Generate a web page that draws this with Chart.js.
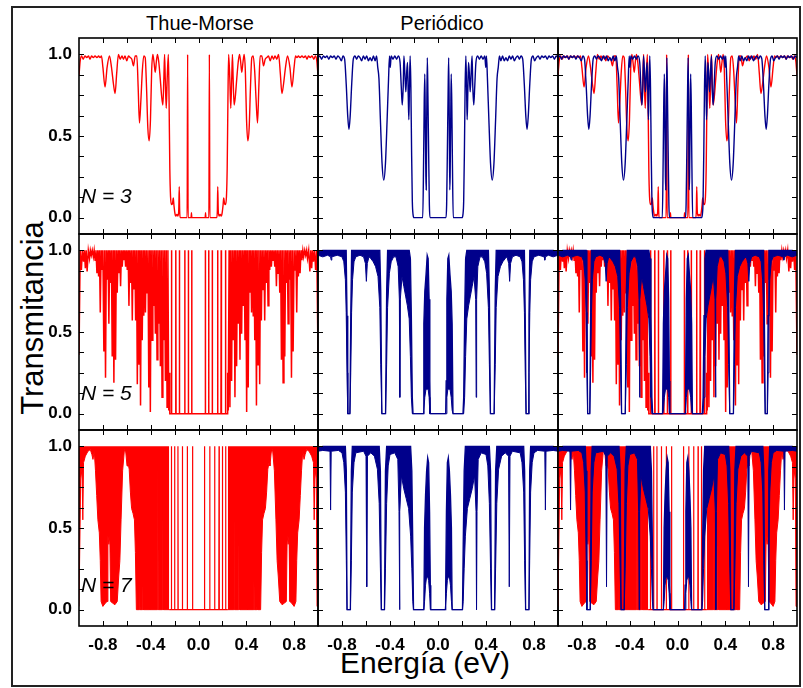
<!DOCTYPE html>
<html>
<head>
<meta charset="utf-8">
<script src="https://cdn.jsdelivr.net/npm/chart.js"></script>
<style>
  body { margin: 0; background: #fff; }
  #fig { position: relative; width: 803px; height: 688px; overflow: hidden; background: #fff; font-family: 'Liberation Sans', Arial, sans-serif; }
  #fig canvas { position: absolute; }
  .txt { position: absolute; white-space: nowrap; color: #000; }
  .frame { position: absolute; left: 11px; top: 6px; width: 790px; height: 681px; box-sizing: border-box; border: 2px solid #222; }
</style>
</head>
<body>
<div id="fig">
  <div class="frame"></div>
  <div class="txt" style="left:100px;top:13px;width:200px;text-align:center;font-size:20px;line-height:20px;">Thue-Morse</div>
  <div class="txt" style="left:342px;top:13px;width:200px;text-align:center;font-size:20px;line-height:20px;">Periódico</div>
  <div class="txt" style="left:32px;top:318px;font-size:31px;line-height:31px;transform:translate(-50%,-50%) rotate(-90deg);">Transmitancia</div>
  <div class="txt" style="left:325px;top:648px;width:200px;text-align:center;font-size:30px;line-height:30px;">Energía (eV)</div>
</div>
<script>
// ejes: marcas y etiquetas
const xLabelTicks = [-0.8, -0.4, 0, 0.4, 0.8];
const yLabelTicks = [0, 0.5, 1];
const xMinorTicks = [-0.8, -0.6, -0.4, -0.2, 0, 0.2, 0.4, 0.6, 0.8];
const yMinorTicks = [0, 0.125, 0.25, 0.375, 0.5, 0.625, 0.75, 0.875, 1];
const rowLabels = ['N = 3', 'N = 5', 'N = 7'];

// Thue-Morse N=3 [energía, T]
const tmN3 = [[-1.000,0.87],[-0.990,0.96],[-0.978,0.99],[-0.965,0.97],[-0.950,0.99],[-0.935,0.98],[-0.920,0.99],[-0.908,0.97],[-0.895,0.99],[-0.880,0.98],[-0.866,0.99],[-0.850,0.98],[-0.836,0.99],[-0.824,0.98],[-0.812,0.99],[-0.800,0.92],[-0.782,0.80],[-0.765,0.92],[-0.745,0.99],[-0.728,0.92],[-0.712,0.82],[-0.698,0.76],[-0.685,0.88],[-0.670,1.00],[-0.655,0.97],[-0.640,0.99],[-0.628,0.97],[-0.615,0.99],[-0.600,0.96],[-0.586,0.99],[-0.572,0.98],[-0.558,0.97],[-0.544,0.93],[-0.530,0.99],[-0.516,0.99],[-0.505,0.80],[-0.494,0.58],[-0.482,0.72],[-0.470,0.90],[-0.458,0.99],[-0.446,0.98],[-0.435,0.80],[-0.424,0.55],[-0.413,0.47],[-0.402,0.60],[-0.392,0.90],[-0.382,1.00],[-0.372,0.95],[-0.362,0.89],[-0.352,0.96],[-0.343,1.00],[-0.332,0.95],[-0.320,0.85],[-0.308,0.74],[-0.298,0.69],[-0.290,0.85],[-0.284,1.00],[-0.278,0.85],[-0.270,0.67],[-0.262,0.85],[-0.252,1.00],[-0.246,0.70],[-0.240,0.30],[-0.234,0.13],[-0.226,0.08],[-0.217,0.09],[-0.211,0.12],[-0.206,0.08],[-0.198,0.03],[-0.190,0.01],[-0.181,0.02],[-0.172,0.01],[-0.165,0.05],[-0.161,0.19],[-0.158,0.05],[-0.153,0.00],[-0.095,0.00],[-0.091,1.00],[-0.087,0.00],[-0.062,0.00],[-0.059,0.03],[-0.056,0.00],
  [0.056,0.00],[0.059,0.03],[0.062,0.00],[0.087,0.00],[0.091,1.00],[0.095,0.00],[0.153,0.00],[0.158,0.05],[0.161,0.19],[0.165,0.05],[0.172,0.01],[0.181,0.02],[0.190,0.01],[0.198,0.03],[0.206,0.08],[0.211,0.12],[0.217,0.09],[0.226,0.08],[0.234,0.13],[0.240,0.30],[0.246,0.70],[0.252,1.00],[0.262,0.85],[0.270,0.67],[0.278,0.85],[0.284,1.00],[0.290,0.85],[0.298,0.69],[0.308,0.74],[0.320,0.85],[0.332,0.95],[0.343,1.00],[0.352,0.96],[0.362,0.89],[0.372,0.95],[0.382,1.00],[0.392,0.90],[0.402,0.60],[0.413,0.47],[0.424,0.55],[0.435,0.80],[0.446,0.98],[0.458,0.99],[0.470,0.90],[0.482,0.72],[0.494,0.58],[0.505,0.80],[0.516,0.99],[0.530,0.99],[0.544,0.93],[0.558,0.97],[0.572,0.98],[0.586,0.99],[0.600,0.96],[0.615,0.99],[0.628,0.97],[0.640,0.99],[0.655,0.97],[0.670,1.00],[0.685,0.88],[0.698,0.76],[0.712,0.82],[0.728,0.92],[0.745,0.99],[0.765,0.92],[0.782,0.80],[0.800,0.92],[0.812,0.99],[0.824,0.98],[0.836,0.99],[0.850,0.98],[0.866,0.99],[0.880,0.98],[0.895,0.99],[0.908,0.97],[0.920,0.99],[0.935,0.98],[0.950,0.99],[0.965,0.97],[0.978,0.99],[0.990,0.96],[1.000,0.87]];

// Periódico N=3 [energía, T]
const perN3 = [[-1.000,0.98],[-0.985,0.99],[-0.970,0.97],[-0.955,0.99],[-0.940,0.98],[-0.925,0.99],[-0.910,0.97],[-0.895,0.99],[-0.880,0.98],[-0.865,0.99],[-0.850,0.97],[-0.835,0.99],[-0.820,0.98],[-0.805,0.96],[-0.792,0.99],[-0.778,0.97],[-0.765,0.82],[-0.752,0.62],[-0.742,0.54],[-0.732,0.62],[-0.719,0.82],[-0.706,0.97],[-0.692,0.99],[-0.678,0.97],[-0.664,0.99],[-0.650,0.98],[-0.636,0.96],[-0.622,0.99],[-0.608,0.97],[-0.594,0.99],[-0.580,0.96],[-0.566,0.98],[-0.552,0.96],[-0.538,0.99],[-0.524,0.96],[-0.512,0.99],[-0.502,0.92],[-0.492,0.85],[-0.480,0.60],[-0.466,0.33],[-0.452,0.23],[-0.438,0.33],[-0.424,0.60],[-0.412,0.85],[-0.404,0.99],[-0.398,0.92],[-0.390,0.99],[-0.375,0.97],[-0.360,0.99],[-0.345,0.97],[-0.330,0.99],[-0.316,0.95],[-0.306,0.80],[-0.298,0.69],[-0.290,0.80],[-0.284,0.99],[-0.276,0.88],[-0.268,0.77],[-0.260,0.90],[-0.254,0.95],[-0.248,0.75],[-0.243,0.60],[-0.238,0.80],[-0.232,0.99],[-0.226,0.80],[-0.220,0.40],[-0.214,0.10],[-0.208,0.02],[-0.200,0.00],[-0.127,0.00],[-0.120,0.35],[-0.115,0.70],[-0.110,0.88],[-0.106,0.60],[-0.101,0.25],[-0.098,0.17],[-0.094,0.60],[-0.089,0.98],[-0.084,0.75],[-0.078,0.40],[-0.072,0.08],[-0.067,0.00],
  [0.067,0.00],[0.072,0.08],[0.078,0.40],[0.084,0.75],[0.089,0.98],[0.094,0.60],[0.098,0.17],[0.101,0.25],[0.106,0.60],[0.110,0.88],[0.115,0.70],[0.120,0.35],[0.127,0.00],[0.200,0.00],[0.208,0.02],[0.214,0.10],[0.220,0.40],[0.226,0.80],[0.232,0.99],[0.238,0.80],[0.243,0.60],[0.248,0.75],[0.254,0.95],[0.260,0.90],[0.268,0.77],[0.276,0.88],[0.284,0.99],[0.290,0.80],[0.298,0.69],[0.306,0.80],[0.316,0.95],[0.330,0.99],[0.345,0.97],[0.360,0.99],[0.375,0.97],[0.390,0.99],[0.398,0.92],[0.404,0.99],[0.412,0.85],[0.424,0.60],[0.438,0.33],[0.452,0.23],[0.466,0.33],[0.480,0.60],[0.492,0.85],[0.502,0.92],[0.512,0.99],[0.524,0.96],[0.538,0.99],[0.552,0.96],[0.566,0.98],[0.580,0.96],[0.594,0.99],[0.608,0.97],[0.622,0.99],[0.636,0.96],[0.650,0.98],[0.664,0.99],[0.678,0.97],[0.692,0.99],[0.706,0.97],[0.719,0.82],[0.732,0.62],[0.742,0.54],[0.752,0.62],[0.765,0.82],[0.778,0.97],[0.792,0.99],[0.805,0.96],[0.820,0.98],[0.835,0.99],[0.850,0.97],[0.865,0.99],[0.880,0.98],[0.895,0.99],[0.910,0.97],[0.925,0.99],[0.940,0.98],[0.955,0.99],[0.970,0.97],[0.985,0.99],[1.000,0.98]];

// Thue-Morse N=5 [energía, T]
const tmN5 = [[-1.000,0.36],[-0.990,1],[-0.980,0.88],[-0.972,1],[-0.962,0.93],[-0.955,1],[-0.947,0.89],[-0.940,1],[-0.932,0.87],[-0.922,1],[-0.912,0.95],[-0.905,1],[-0.897,0.97],[-0.889,1],[-0.880,0.96],[-0.873,1],[-0.865,0.94],[-0.858,1],[-0.850,0.86],[-0.843,1],[-0.836,0.84],[-0.829,1],[-0.822,0.62],[-0.815,1],[-0.808,0.88],[-0.800,1],[-0.792,0.38],[-0.785,1],[-0.778,0.22],[-0.771,1],[-0.764,0.82],[-0.757,1],[-0.750,0.55],[-0.743,1],[-0.736,0.80],[-0.729,1],[-0.722,0.35],[-0.715,1],[-0.708,0.19],[-0.701,1],[-0.694,0.33],[-0.687,1],[-0.680,0.74],[-0.673,1],[-0.666,0.86],[-0.659,1],[-0.652,0.78],[-0.645,1],[-0.638,0.90],[-0.631,1],[-0.624,0.94],[-0.617,1],[-0.610,0.90],[-0.603,1],[-0.596,0.88],[-0.589,1],[-0.582,0.66],[-0.575,1],[-0.568,0.80],[-0.561,1],[-0.554,0.57],[-0.547,1],[-0.540,0.76],[-0.533,1],[-0.526,0.57],[-0.519,1],[-0.512,0.18],[-0.505,1],[-0.498,0.30],[-0.491,1],[-0.485,0.05],[-0.478,1],[-0.471,0.45],[-0.464,1],[-0.458,0.60],[-0.451,1],[-0.444,0.62],[-0.437,1],[-0.430,0.74],[-0.423,1],[-0.416,0.16],[-0.409,1],[-0.403,0.01],[-0.396,1],[-0.389,0.45],[-0.382,1],[-0.375,0.66],[-0.368,1],[-0.361,0.49],[-0.354,1],[-0.347,0.33],[-0.340,1],[-0.333,0.55],[-0.326,1],[-0.319,0.29],[-0.312,1],[-0.305,0.10],[-0.298,1],[-0.291,0.45],[-0.284,1],[-0.277,0.20],[-0.270,1],[-0.263,0.04],[-0.256,1],[-0.249,0.02],[-0.244,0.25],[-0.240,0],
  [-0.228,0],[-0.226,1],[-0.224,0],[-0.192,0],[-0.190,1],[-0.188,0],[-0.162,0],[-0.160,1],[-0.158,0],[-0.117,0],[-0.115,1],[-0.113,0],[-0.087,0],[-0.085,1],[-0.083,0],[-0.059,0],[-0.057,1],[-0.055,0],[0.055,0],[0.057,1],[0.059,0],[0.083,0],[0.085,1],[0.087,0],[0.113,0],[0.115,1],[0.117,0],[0.158,0],[0.160,1],[0.162,0],[0.188,0],[0.190,1],[0.192,0],[0.224,0],[0.226,1],[0.228,0],
  [0.240,0],[0.244,0.25],[0.249,0.02],[0.256,1],[0.263,0.04],[0.270,1],[0.277,0.20],[0.284,1],[0.291,0.45],[0.298,1],[0.305,0.10],[0.312,1],[0.319,0.29],[0.326,1],[0.333,0.55],[0.340,1],[0.347,0.33],[0.354,1],[0.361,0.49],[0.368,1],[0.375,0.66],[0.382,1],[0.389,0.45],[0.396,1],[0.403,0.01],[0.409,1],[0.416,0.16],[0.423,1],[0.430,0.74],[0.437,1],[0.444,0.62],[0.451,1],[0.458,0.60],[0.464,1],[0.471,0.45],[0.478,1],[0.485,0.05],[0.491,1],[0.498,0.30],[0.505,1],[0.512,0.18],[0.519,1],[0.526,0.57],[0.533,1],[0.540,0.76],[0.547,1],[0.554,0.57],[0.561,1],[0.568,0.80],[0.575,1],[0.582,0.66],[0.589,1],[0.596,0.88],[0.603,1],[0.610,0.90],[0.617,1],[0.624,0.94],[0.631,1],[0.638,0.90],[0.645,1],[0.652,0.78],[0.659,1],[0.666,0.86],[0.673,1],[0.680,0.74],[0.687,1],[0.694,0.33],[0.701,1],[0.708,0.19],[0.715,1],[0.722,0.35],[0.729,1],[0.736,0.80],[0.743,1],[0.750,0.55],[0.757,1],[0.764,0.82],[0.771,1],[0.778,0.22],[0.785,1],[0.792,0.38],[0.800,1],[0.808,0.88],[0.815,1],[0.822,0.62],[0.829,1],[0.836,0.84],[0.843,1],[0.850,0.86],[0.858,1],[0.865,0.94],[0.873,1],[0.880,0.96],[0.889,1],[0.897,0.97],[0.905,1],[0.912,0.95],[0.922,1],[0.932,0.87],[0.940,1],[0.947,0.89],[0.955,1],[0.962,0.93],[0.972,1],[0.980,0.88],[0.990,1],[1.000,0.36]];

// Periódico N=5: oscilaciones rápidas como banda [energía, T mín, T máx]
const perN5 = [[-1.000,0.97,0.99],[-0.960,0.96,1],[-0.920,0.97,1],[-0.895,0.96,1],[-0.890,0.94,1],[-0.885,0.96,1],[-0.840,0.97,1],[-0.800,0.96,1],[-0.785,0.93,1],[-0.772,0.82,1],[-0.765,0.62,1],[-0.758,0.25,0.60],[-0.752,0,0],[-0.734,0,0],[-0.727,0.25,0.60],[-0.720,0.62,1],[-0.712,0.82,1],[-0.700,0.93,1],[-0.685,0.96,1],[-0.650,0.97,1],[-0.620,0.96,1],[-0.605,0.92,1],[-0.597,0.81,1],[-0.589,0.92,1],[-0.575,0.96,1],[-0.560,0.95,1],[-0.540,0.93,1],[-0.520,0.90,1],[-0.500,0.84,1],[-0.485,0.65,1],[-0.477,0.30,0.75],[-0.468,0,0],[-0.437,0,0],[-0.428,0.30,0.75],[-0.420,0.65,1],[-0.405,0.86,1],[-0.390,0.93,1],[-0.370,0.96,1],[-0.350,0.96,1],[-0.332,0.90,1],[-0.322,0.70,1],[-0.318,0.10,1],[-0.314,0.70,1],[-0.300,0.84,1],[-0.285,0.78,1],[-0.270,0.72,1],[-0.255,0.66,1],[-0.240,0.58,1],[-0.230,0.35,0.95],[-0.222,0.10,0.60],[-0.214,0,0.10],[-0.208,0,0],[-0.125,0,0],[-0.118,0.02,0.55],[-0.110,0.10,0.75],[-0.100,0.15,0.85],[-0.090,0.15,0.97],[-0.082,0.15,0.95],[-0.074,0.10,0.70],[-0.068,0,0.20],[-0.064,0,0],
  [0.064,0,0],[0.068,0,0.20],[0.074,0.10,0.70],[0.082,0.15,0.95],[0.090,0.15,0.97],[0.100,0.15,0.85],[0.110,0.10,0.75],[0.118,0.02,0.55],[0.125,0,0],[0.208,0,0],[0.214,0,0.10],[0.222,0.10,0.60],[0.230,0.35,0.95],[0.240,0.58,1],[0.255,0.66,1],[0.270,0.72,1],[0.285,0.78,1],[0.300,0.84,1],[0.314,0.70,1],[0.318,0.10,1],[0.322,0.70,1],[0.332,0.90,1],[0.350,0.96,1],[0.370,0.96,1],[0.390,0.93,1],[0.405,0.86,1],[0.420,0.65,1],[0.428,0.30,0.75],[0.437,0,0],[0.468,0,0],[0.477,0.30,0.75],[0.485,0.65,1],[0.500,0.84,1],[0.520,0.90,1],[0.540,0.93,1],[0.560,0.95,1],[0.575,0.96,1],[0.589,0.92,1],[0.597,0.81,1],[0.605,0.92,1],[0.620,0.96,1],[0.650,0.97,1],[0.685,0.96,1],[0.700,0.93,1],[0.712,0.82,1],[0.720,0.62,1],[0.727,0.25,0.60],[0.734,0,0],[0.752,0,0],[0.758,0.25,0.60],[0.765,0.62,1],[0.772,0.82,1],[0.785,0.93,1],[0.800,0.96,1],[0.840,0.97,1],[0.885,0.96,1],[0.890,0.94,1],[0.895,0.96,1],[0.920,0.97,1],[0.960,0.96,1],[1.000,0.97,0.99]];

// Thue-Morse N=7: envolvente inferior de la zona llena (hasta T=1) y picos del centro
const tmN7LowLeft = [[-1.000,0.02],[-0.992,0.02],[-0.986,0.80],[-0.975,0.86],[-0.968,0.55],[-0.962,0.90],[-0.947,0.94],[-0.925,0.97],[-0.905,0.98],[-0.892,0.95],[-0.883,0.92],[-0.872,0.97],[-0.862,0.85],[-0.852,0.70],[-0.842,0.55],[-0.830,0.47],[-0.822,0.30],[-0.815,0.05],[-0.800,0.02],[-0.780,0.04],[-0.765,0.05],[-0.758,0.45],[-0.750,0.40],[-0.742,0.45],[-0.735,0.05],[-0.700,0.03],[-0.680,0.05],[-0.668,0.20],[-0.658,0.30],[-0.648,0.55],[-0.635,0.85],[-0.620,0.98],[-0.608,0.96],[-0.598,0.88],[-0.590,0.90],[-0.580,0.86],[-0.570,0.72],[-0.560,0.62],[-0.548,0.59],[-0.536,0.55],[-0.528,0.35],[-0.520,0.00],[-0.495,0.00],[-0.492,0.16],[-0.489,0.00],[-0.467,0.00],[-0.464,0.18],[-0.461,0.00],[-0.412,0.00],[-0.409,0.35],[-0.406,0.00],[-0.345,0.00],[-0.341,0.90],[-0.337,0.00],[-0.300,0.00],[-0.297,0.60],[-0.294,0.00],[-0.245,0.00]];
const tmN7LowRight = [[0.245,0.00],[0.294,0.00],[0.297,0.60],[0.300,0.00],[0.337,0.00],[0.341,0.90],[0.345,0.00],[0.406,0.00],[0.409,0.35],[0.412,0.00],[0.461,0.00],[0.464,0.18],[0.467,0.00],[0.489,0.00],[0.492,0.16],[0.495,0.00],[0.520,0.00],[0.528,0.35],[0.536,0.55],[0.548,0.59],[0.560,0.62],[0.570,0.72],[0.580,0.86],[0.590,0.90],[0.598,0.88],[0.608,0.96],[0.620,0.98],[0.635,0.85],[0.648,0.55],[0.658,0.30],[0.668,0.20],[0.680,0.05],[0.700,0.03],[0.735,0.05],[0.742,0.45],[0.750,0.40],[0.758,0.45],[0.765,0.05],[0.780,0.04],[0.800,0.02],[0.815,0.05],[0.822,0.30],[0.830,0.47],[0.842,0.55],[0.852,0.70],[0.862,0.85],[0.872,0.97],[0.883,0.92],[0.892,0.95],[0.905,0.98],[0.925,0.97],[0.947,0.94],[0.962,0.90],[0.968,0.55],[0.975,0.86],[0.986,0.80],[0.992,0.02],[1.000,0.02]];
const tmN7Center = [[-0.245,0],[-0.229,0],[-0.227,1],[-0.225,0],[-0.202,0],[-0.200,1],[-0.198,0],[-0.174,0],[-0.172,1],[-0.170,0],[-0.137,0],[-0.135,1],[-0.133,0],[-0.096,0],[-0.094,1],[-0.092,0],[-0.052,0],[-0.050,1],[-0.048,0],[0.048,0],[0.050,1],[0.052,0],[0.092,0],[0.094,1],[0.096,0],[0.133,0],[0.135,1],[0.137,0],[0.170,0],[0.172,1],[0.174,0],[0.198,0],[0.200,1],[0.202,0],[0.225,0],[0.227,1],[0.229,0],[0.245,0]];

// Periódico N=7 [energía, T mín, T máx]
const perN7 = [[-1.000,0.97,0.99],[-0.960,0.975,1],[-0.900,0.97,1],[-0.895,0.61,1],[-0.890,0.97,1],[-0.830,0.975,1],[-0.800,0.96,1],[-0.785,0.90,1],[-0.772,0.72,1],[-0.764,0.30,0.85],[-0.758,0,0],[-0.730,0,0],[-0.722,0.30,0.85],[-0.714,0.72,1],[-0.700,0.90,1],[-0.685,0.96,1],[-0.620,0.97,1],[-0.600,0.94,1],[-0.594,0.14,1],[-0.588,0.94,1],[-0.560,0.96,1],[-0.530,0.94,1],[-0.505,0.86,1],[-0.490,0.65,1],[-0.480,0.25,0.85],[-0.472,0,0],[-0.446,0,0],[-0.438,0.25,0.85],[-0.428,0.65,1],[-0.415,0.88,1],[-0.400,0.95,1],[-0.360,0.96,1],[-0.335,0.92,1],[-0.325,0.60,1],[-0.321,0,1],[-0.317,0.60,1],[-0.305,0.82,1],[-0.285,0.74,1],[-0.265,0.68,1],[-0.245,0.62,1],[-0.228,0.45,1],[-0.218,0.25,0.85],[-0.210,0.05,0.40],[-0.204,0,0],[-0.118,0,0],[-0.112,0.05,0.50],[-0.104,0.15,0.70],[-0.095,0.20,0.85],[-0.086,0.20,0.93],[-0.078,0.18,0.90],[-0.070,0.10,0.60],[-0.064,0,0.15],[-0.060,0,0],
  [0.060,0,0],[0.064,0,0.15],[0.070,0.10,0.60],[0.078,0.18,0.90],[0.086,0.20,0.93],[0.095,0.20,0.85],[0.104,0.15,0.70],[0.112,0.05,0.50],[0.118,0,0],[0.204,0,0],[0.210,0.05,0.40],[0.218,0.25,0.85],[0.228,0.45,1],[0.245,0.62,1],[0.265,0.68,1],[0.285,0.74,1],[0.305,0.82,1],[0.317,0.60,1],[0.321,0,1],[0.325,0.60,1],[0.335,0.92,1],[0.360,0.96,1],[0.400,0.95,1],[0.415,0.88,1],[0.428,0.65,1],[0.438,0.25,0.85],[0.446,0,0],[0.472,0,0],[0.480,0.25,0.85],[0.490,0.65,1],[0.505,0.86,1],[0.530,0.94,1],[0.560,0.96,1],[0.588,0.94,1],[0.594,0.14,1],[0.600,0.94,1],[0.620,0.97,1],[0.685,0.96,1],[0.700,0.90,1],[0.714,0.72,1],[0.722,0.30,0.85],[0.730,0,0],[0.758,0,0],[0.764,0.30,0.85],[0.772,0.72,1],[0.785,0.90,1],[0.800,0.96,1],[0.830,0.975,1],[0.890,0.97,1],[0.895,0.61,1],[0.900,0.97,1],[0.960,0.975,1],[1.000,0.97,0.99]];

const RED = '#ff0000';
const BLUE = '#00008b';

// geometría de los paneles (área de trazado)
const colLeft = [79, 318, 558];
const colWidth = [239, 240, 239];
const rowTop = [38, 234, 430];
const rowHeight = 196;

function lineSet(arr, color, width, smooth) {
  return {
    data: arr.map(([x, y]) => ({ x, y })),
    borderColor: color, borderWidth: width, pointRadius: 0, fill: false,
    cubicInterpolationMode: smooth ? 'monotone' : 'default', tension: 0, clip: 0
  };
}

function bandSets(arr, color) {
  return [
    { data: arr.map(([x, lo, hi]) => ({ x, y: hi })), borderColor: color, borderWidth: 1.3, pointRadius: 0, fill: '+1', backgroundColor: color, clip: 0 },
    { data: arr.map(([x, lo]) => ({ x, y: lo })), borderColor: color, borderWidth: 1, pointRadius: 0, fill: false, clip: 0 }
  ];
}

function envelopeSet(arr, color) {
  return { data: arr.map(([x, y]) => ({ x, y })), borderColor: color, borderWidth: 1, pointRadius: 0, fill: { value: 1 }, backgroundColor: color, clip: 0 };
}

const tmN7Sets = () => [envelopeSet(tmN7LowLeft, RED), envelopeSet(tmN7LowRight, RED), lineSet(tmN7Center, RED, 1.2, false)];

const panels = [
  [lineSet(tmN3, RED, 1.4, true)],
  [lineSet(perN3, BLUE, 1.4, true)],
  [lineSet(perN3, BLUE, 1.4, true), lineSet(tmN3, RED, 1.4, true)],
  [lineSet(tmN5, RED, 1.5, false)],
  bandSets(perN5, BLUE),
  [...bandSets(perN5, BLUE), lineSet(tmN5, RED, 1.5, false)],
  tmN7Sets(),
  bandSets(perN7, BLUE),
  [...bandSets(perN7, BLUE), ...tmN7Sets()]
];

// marco y marcas hacia dentro en los cuatro lados
const frameTicks = {
  id: 'frameTicks',
  afterDatasetsDraw(chart) {
    const { ctx, chartArea: a, scales: { x, y } } = chart;
    ctx.save();
    ctx.strokeStyle = '#000';
    ctx.lineWidth = 1;
    ctx.beginPath();
    xMinorTicks.forEach(v => {
      const px = Math.round(x.getPixelForValue(v)) + 0.5;
      ctx.moveTo(px, a.bottom); ctx.lineTo(px, a.bottom - 5);
      ctx.moveTo(px, a.top); ctx.lineTo(px, a.top + 5);
    });
    yMinorTicks.forEach(v => {
      const py = Math.round(y.getPixelForValue(v)) + 0.5;
      ctx.moveTo(a.left, py); ctx.lineTo(a.left + 5, py);
      ctx.moveTo(a.right, py); ctx.lineTo(a.right - 5, py);
    });
    ctx.stroke();
    ctx.lineWidth = 1.6;
    ctx.strokeRect(a.left, a.top, a.right - a.left, a.bottom - a.top);
    ctx.restore();
  }
};

const fig = document.getElementById('fig');
const tickFont = { family: "'Liberation Sans', Arial, sans-serif", size: 17, weight: 'bold' };

// sin relleno extra de las etiquetas en los extremos del eje
function fixSize(s, prop, size) {
  s[prop] = size;
  s.paddingTop = 0; s.paddingBottom = 0; s.paddingLeft = 0; s.paddingRight = 0;
}

panels.forEach((datasets, i) => {
  const col = i % 3, row = Math.floor(i / 3);
  const showY = col === 0, showX = row === 2;
  const yAxisW = 48, xAxisH = 40, pad = 2;
  const left = colLeft[col] - pad - (showY ? yAxisW : 0);
  const top = rowTop[row] - pad;
  const w = colWidth[col] + 2 * pad + (showY ? yAxisW : 0);
  const h = rowHeight + 2 * pad + (showX ? xAxisH : 0);

  const canvas = document.createElement('canvas');
  canvas.width = w; canvas.height = h;
  canvas.style.left = left + 'px'; canvas.style.top = top + 'px';
  canvas.style.width = w + 'px'; canvas.style.height = h + 'px';
  fig.appendChild(canvas);

  new Chart(canvas, {
    type: 'line',
    data: { datasets },
    options: {
      responsive: false, animation: false, devicePixelRatio: 1, events: [],
      layout: { padding: pad },
      plugins: { legend: { display: false }, tooltip: { enabled: false } },
      scales: {
        x: {
          type: 'linear', min: -1, max: 1, display: showX,
          grid: { display: false, drawTicks: false }, border: { display: false },
          afterBuildTicks: s => { s.ticks = xLabelTicks.map(v => ({ value: v })); },
          afterFit: s => fixSize(s, 'height', showX ? xAxisH : 0),
          ticks: { autoSkip: false, maxRotation: 0, padding: 9, color: '#000', font: tickFont, callback: v => v.toFixed(1) }
        },
        y: {
          type: 'linear', min: -0.1, max: 1.1, display: showY,
          grid: { display: false, drawTicks: false }, border: { display: false },
          afterBuildTicks: s => { s.ticks = yLabelTicks.map(v => ({ value: v })); },
          afterFit: s => fixSize(s, 'width', showY ? yAxisW : 0),
          ticks: { autoSkip: false, padding: 7, color: '#000', font: tickFont, callback: v => v.toFixed(1) }
        }
      }
    },
    plugins: [frameTicks]
  });

  // etiqueta N en la primera columna
  if (col === 0) {
    const lab = document.createElement('div');
    lab.className = 'txt';
    lab.style.cssText = 'left:81px;font-size:21px;line-height:21px;font-style:italic;top:' + [185, 382, 574][row] + 'px;';
    lab.textContent = rowLabels[row];
    fig.appendChild(lab);
  }
});
</script>
</body>
</html>
